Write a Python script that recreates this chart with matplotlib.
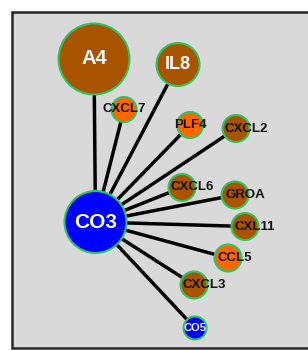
import matplotlib
matplotlib.use("Agg")
import matplotlib.pyplot as plt
from matplotlib.patches import Circle, Rectangle

plt.rcParams['font.family'] = ['Liberation Sans', 'DejaVu Sans']

# network: hub CO3 linked to every other node
hub = "CO3"
node_names = ["A4", "IL8", "CXCL7", "PLF4", "CXCL2", "CXCL6", "GROA",
              "CXL11", "CCL5", "CXCL3", "CO5", "CO3"]
node_kind = ["brown", "brown", "orange", "orange", "brown", "brown", "brown",
             "brown", "orange", "brown", "blue", "blue"]

# layout in pixels (x right, y down) and node radius
node_x = [94, 178, 124, 190, 236, 182, 235, 245, 228, 194, 195, 95.5]
node_y = [59, 64.5, 109.5, 125, 128.5, 187.5, 195, 226.5, 258, 285, 328, 222]
node_r = [35.5, 21.5, 12.5, 13, 13.5, 13.5, 13.5, 13.5, 13.5, 13.5, 11.5, 31]

# horizontal shift of the label from the node centre
label_dx = [0, 0, 0, 0, 10, 10, 10, 10, 7, 10, 0, 0]

colors = {"brown": "#a85400", "orange": "#ff6600", "blue": "#0000ff"}
outline = "#2fc462"

fig = plt.figure(figsize=(3.08, 3.5), dpi=100)
ax = fig.add_axes([0, 0, 1, 1])
ax.set_xlim(0, 308)
ax.set_ylim(350, 0)
ax.axis("off")

# grey panel with dark frame (runs off the right edge)
ax.add_patch(Rectangle((11.5, 12), 310, 335.5, facecolor="#d9d9d9",
                       edgecolor="#262626", linewidth=1.8, zorder=0))

h = node_names.index(hub)
for i, name in enumerate(node_names):
    if i == h:
        continue
    ax.plot([node_x[h], node_x[i]], [node_y[h], node_y[i]], color="black",
            linewidth=2.5, solid_capstyle="butt", zorder=1)

for i, name in enumerate(node_names):
    ax.add_patch(Circle((node_x[i], node_y[i]), node_r[i],
                        facecolor=colors[node_kind[i]], edgecolor=outline,
                        linewidth=1.5, zorder=2))
    if node_r[i] > 20:
        size = {"A4": 14.5, "IL8": 13, "CO3": 15}[name]
        ax.text(node_x[i], node_y[i], name, color="white", fontsize=size,
                fontweight="bold", ha="center", va="center", zorder=3)
    elif node_kind[i] == "blue":
        ax.text(node_x[i], node_y[i], name, color="white", fontsize=8,
                fontweight="bold", ha="center", va="center", zorder=3)
    else:
        ax.text(node_x[i] + label_dx[i], node_y[i], name, color="#111111",
                fontsize=9.5, fontweight="bold", ha="center", va="center",
                zorder=3)

fig.savefig("out.png", dpi=100, facecolor="white")
